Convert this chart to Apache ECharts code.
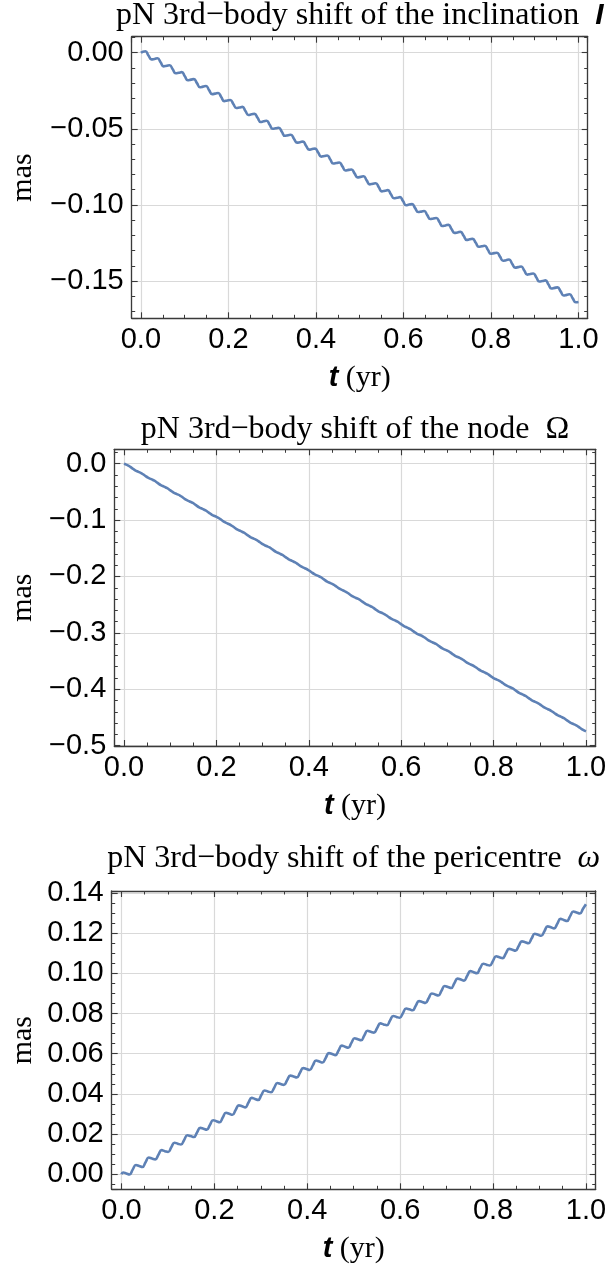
<!DOCTYPE html>
<html><head><meta charset="utf-8">
<script src="https://cdn.jsdelivr.net/npm/echarts@6/dist/echarts.min.js"></script>
<style>html,body{margin:0;padding:0;background:#fff}#c{width:610px;height:1272px}</style>
</head><body><div id="c"></div>
<script>
// ---- data (t in years, shifts in mas) ----
const timeYr = [0,
0.0035,0.0104,0.0173,0.0242, 0.0312,0.0381,0.0450,0.0519, 0.0589,0.0658,0.0727,0.0796, 0.0866,0.0935,0.1004,0.1073,
0.1143,0.1212,0.1281,0.1350, 0.1420,0.1489,0.1558,0.1627, 0.1697,0.1766,0.1835,0.1904, 0.1974,0.2043,0.2112,0.2181,
0.2251,0.2320,0.2389,0.2458, 0.2528,0.2597,0.2666,0.2735, 0.2805,0.2874,0.2943,0.3012, 0.3082,0.3151,0.3220,0.3289,
0.3359,0.3428,0.3497,0.3566, 0.3636,0.3705,0.3774,0.3843, 0.3913,0.3982,0.4051,0.4120, 0.4190,0.4259,0.4328,0.4397,
0.4467,0.4536,0.4605,0.4674, 0.4744,0.4813,0.4882,0.4951, 0.5021,0.5090,0.5159,0.5228, 0.5298,0.5367,0.5436,0.5505,
0.5575,0.5644,0.5713,0.5782, 0.5852,0.5921,0.5990,0.6059, 0.6129,0.6198,0.6267,0.6336, 0.6406,0.6475,0.6544,0.6613,
0.6683,0.6752,0.6821,0.6890, 0.6960,0.7029,0.7098,0.7167, 0.7237,0.7306,0.7375,0.7444, 0.7514,0.7583,0.7652,0.7721,
0.7791,0.7860,0.7929,0.7998, 0.8068,0.8137,0.8206,0.8275, 0.8345,0.8414,0.8483,0.8552, 0.8622,0.8691,0.8760,0.8829,
0.8899,0.8968,0.9037,0.9106, 0.9176,0.9245,0.9314,0.9383, 0.9453,0.9522,0.9591,0.9660, 0.9730,0.9799,0.9868,0.9937,
1];

const inclinationShift = [0,
0.0005,0.0009,-0.0018,-0.0044, -0.0041,-0.0037,-0.0063,-0.0090, -0.0086,-0.0083,-0.0109,-0.0135, -0.0132,-0.0128,-0.0155,-0.0181,
-0.0177,-0.0174,-0.0200,-0.0227, -0.0223,-0.0219,-0.0246,-0.0272, -0.0269,-0.0265,-0.0291,-0.0318, -0.0314,-0.0311,-0.0337,-0.0363,
-0.0360,-0.0356,-0.0383,-0.0409, -0.0405,-0.0402,-0.0428,-0.0455, -0.0451,-0.0447,-0.0474,-0.0500, -0.0497,-0.0493,-0.0519,-0.0546,
-0.0542,-0.0539,-0.0565,-0.0591, -0.0588,-0.0584,-0.0611,-0.0637, -0.0633,-0.0630,-0.0656,-0.0683, -0.0679,-0.0675,-0.0702,-0.0728,
-0.0725,-0.0721,-0.0747,-0.0774, -0.0770,-0.0767,-0.0793,-0.0819, -0.0816,-0.0812,-0.0839,-0.0865, -0.0861,-0.0858,-0.0884,-0.0911,
-0.0907,-0.0903,-0.0930,-0.0956, -0.0953,-0.0949,-0.0975,-0.1002, -0.0998,-0.0995,-0.1021,-0.1047, -0.1044,-0.1040,-0.1067,-0.1093,
-0.1089,-0.1086,-0.1112,-0.1139, -0.1135,-0.1131,-0.1158,-0.1184, -0.1181,-0.1177,-0.1203,-0.1230, -0.1226,-0.1223,-0.1249,-0.1275,
-0.1272,-0.1268,-0.1295,-0.1321, -0.1317,-0.1314,-0.1340,-0.1367, -0.1363,-0.1359,-0.1386,-0.1412, -0.1409,-0.1405,-0.1431,-0.1458,
-0.1454,-0.1451,-0.1477,-0.1503, -0.1500,-0.1496,-0.1523,-0.1549, -0.1545,-0.1542,-0.1568,-0.1595, -0.1591,-0.1587,-0.1614,-0.1640,
-0.1638];

const nodeShift = [0,
-0.0012,-0.0039,-0.0078,-0.0117, -0.0144,-0.0171,-0.0210,-0.0248, -0.0275,-0.0302,-0.0341,-0.0380, -0.0407,-0.0434,-0.0473,-0.0512,
-0.0539,-0.0565,-0.0604,-0.0643, -0.0670,-0.0697,-0.0736,-0.0775, -0.0802,-0.0829,-0.0867,-0.0906, -0.0933,-0.0960,-0.0999,-0.1038,
-0.1065,-0.1092,-0.1131,-0.1170, -0.1196,-0.1223,-0.1262,-0.1301, -0.1328,-0.1355,-0.1394,-0.1433, -0.1460,-0.1486,-0.1525,-0.1564,
-0.1591,-0.1618,-0.1657,-0.1696, -0.1723,-0.1750,-0.1788,-0.1827, -0.1854,-0.1881,-0.1920,-0.1959, -0.1986,-0.2013,-0.2052,-0.2091,
-0.2117,-0.2144,-0.2183,-0.2222, -0.2249,-0.2276,-0.2315,-0.2354, -0.2381,-0.2407,-0.2446,-0.2485, -0.2512,-0.2539,-0.2578,-0.2617,
-0.2644,-0.2671,-0.2710,-0.2748, -0.2775,-0.2802,-0.2841,-0.2880, -0.2907,-0.2934,-0.2973,-0.3012, -0.3038,-0.3065,-0.3104,-0.3143,
-0.3170,-0.3197,-0.3236,-0.3275, -0.3302,-0.3328,-0.3367,-0.3406, -0.3433,-0.3460,-0.3499,-0.3538, -0.3565,-0.3592,-0.3631,-0.3669,
-0.3696,-0.3723,-0.3762,-0.3801, -0.3828,-0.3855,-0.3894,-0.3933, -0.3959,-0.3986,-0.4025,-0.4064, -0.4091,-0.4118,-0.4157,-0.4196,
-0.4223,-0.4250,-0.4288,-0.4327, -0.4354,-0.4381,-0.4420,-0.4459, -0.4486,-0.4513,-0.4552,-0.4590, -0.4617,-0.4644,-0.4683,-0.4722,
-0.4747];

const pericentreShift = [0,
0.0009,0.0004,-0.0001,0.0023, 0.0046,0.0041,0.0036,0.0060, 0.0083,0.0078,0.0074,0.0097, 0.0120,0.0115,0.0111,0.0134,
0.0157,0.0152,0.0148,0.0171, 0.0194,0.0190,0.0185,0.0208, 0.0231,0.0227,0.0222,0.0245, 0.0269,0.0264,0.0259,0.0282,
0.0306,0.0301,0.0296,0.0320, 0.0343,0.0338,0.0333,0.0357, 0.0380,0.0375,0.0370,0.0394, 0.0417,0.0412,0.0408,0.0431,
0.0454,0.0449,0.0445,0.0468, 0.0491,0.0487,0.0482,0.0505, 0.0528,0.0524,0.0519,0.0542, 0.0566,0.0561,0.0556,0.0579,
0.0603,0.0598,0.0593,0.0616, 0.0640,0.0635,0.0630,0.0654, 0.0677,0.0672,0.0667,0.0691, 0.0714,0.0709,0.0705,0.0728,
0.0751,0.0746,0.0742,0.0765, 0.0788,0.0783,0.0779,0.0802, 0.0825,0.0821,0.0816,0.0839, 0.0862,0.0858,0.0853,0.0876,
0.0900,0.0895,0.0890,0.0913, 0.0937,0.0932,0.0927,0.0951, 0.0974,0.0969,0.0964,0.0988, 0.1011,0.1006,0.1001,0.1025,
0.1048,0.1043,0.1039,0.1062, 0.1085,0.1080,0.1076,0.1099, 0.1122,0.1118,0.1113,0.1136, 0.1159,0.1155,0.1150,0.1173,
0.1197,0.1192,0.1187,0.1210, 0.1234,0.1229,0.1224,0.1247, 0.1271,0.1266,0.1261,0.1285, 0.1308,0.1303,0.1298,0.1322,
0.1344];

const panelTitles = ['pN 3rd\u2212body shift of the inclination  {s|I}',
                     'pN 3rd\u2212body shift of the node  \u03A9',
                     'pN 3rd\u2212body shift of the pericentre  {w|\u03C9}'];
const yTickSteps = [0.05, 0.1, 0.02];
const yTickDecimals = [2, 1, 2];
const xTickStep = 0.2;
const yAxisName = 'mas';
const xAxisName = '{i|t} (yr)';

// ---- layout / styling ----
const panels = [
  {frame:{left:131.7, top:36.7, width:456, height:281.6}, y:[-0.1745, 0.0105], ySplit:4, yMinor:5, titleY:16},
  {frame:{left:114.3, top:449.3, width:481.4, height:296.7}, y:[-0.5006, 0.0255], ySplit:5, yMinor:5, titleY:430},
  {frame:{left:111.7, top:891, width:484, height:298.3}, y:[-0.0075, 0.141], ySplit:7, yMinor:4, titleY:859}
];
const seriesData = [inclinationShift, nodeShift, pericentreShift];
const X_RANGE = [-0.021, 1.021];
const FRAME = '#3a3a3a';
const GRIDC = '#d9d9d9';
const LABEL_FONT = 'Liberation Sans';
const SERIF = 'Liberation Serif';
const TICK_SIZE = 29;

function fmt(step, dec) {
  return function (v) {
    const r = Math.round(v / step);
    if (Math.abs(v - r * step) > step * 1e-3) return '';
    const s = Math.abs(r * step).toFixed(dec);
    return (r < 0 ? '\u2212' : '') + s;
  };
}

const grid = [], xAxis = [], yAxis = [], series = [], graphic = [];
panels.forEach((p, i) => {
  grid.push(Object.assign({containLabel:false}, p.frame));
  const common = {
    axisLine:{show:true, onZero:false, lineStyle:{color:FRAME, width:1.3}},
    axisTick:{show:true, inside:true, length:6, lineStyle:{color:FRAME, width:1.1}},
    minorTick:{show:true, length:3.5, lineStyle:{color:FRAME, width:1}},
  };
  xAxis.push(Object.assign({}, common, {
    type:'value', gridIndex:i, position:'bottom', min:X_RANGE[0], max:X_RANGE[1], splitNumber:5,
    minorTick:Object.assign({}, common.minorTick, {splitNumber:4}),
    axisLabel:{show:true, margin:7, color:'#000', fontFamily:LABEL_FONT, fontSize:TICK_SIZE, formatter:fmt(xTickStep,1), showMinLabel:false, showMaxLabel:false},
    splitLine:{show:true, lineStyle:{color:GRIDC, width:1.2}}
  }));
  xAxis.push(Object.assign({}, common, {
    type:'value', gridIndex:i, position:'top', min:X_RANGE[0], max:X_RANGE[1], splitNumber:5,
    minorTick:Object.assign({}, common.minorTick, {splitNumber:4}),
    axisLabel:{show:false}, splitLine:{show:false}
  }));
  yAxis.push(Object.assign({}, common, {
    type:'value', gridIndex:i, position:'left', min:p.y[0], max:p.y[1], splitNumber:p.ySplit,
    minorTick:Object.assign({}, common.minorTick, {splitNumber:p.yMinor}),
    axisLabel:{show:true, margin:8, color:'#000', fontFamily:LABEL_FONT, fontSize:TICK_SIZE, formatter:fmt(yTickSteps[i], yTickDecimals[i]), showMinLabel:false, showMaxLabel:false},
    splitLine:{show:true, lineStyle:{color:GRIDC, width:1.2}}
  }));
  yAxis.push(Object.assign({}, common, {
    type:'value', gridIndex:i, position:'right', min:p.y[0], max:p.y[1], splitNumber:p.ySplit,
    minorTick:Object.assign({}, common.minorTick, {splitNumber:p.yMinor}),
    axisLabel:{show:false}, splitLine:{show:false}
  }));
  series.push({
    type:'line', xAxisIndex:2*i, yAxisIndex:2*i, showSymbol:false, smooth:0.5,
    lineStyle:{color:'#5e81b5', width:2.6}, data:timeYr.map((t, k) => [t, seriesData[i][k]]),
    silent:true
  });
  const cx = p.frame.left + p.frame.width / 2;
  const cy = p.frame.top + p.frame.height / 2;
  graphic.push({type:'text', x:cx, y:p.titleY, style:{
    text:panelTitles[i], fill:'#000', font:'32px "' + SERIF + '"',
    align:'center', verticalAlign:'middle', textAlign:'center', textVerticalAlign:'middle',
    rich:{s:{fontFamily:LABEL_FONT, fontStyle:'italic', fontWeight:'bold', fontSize:30, fill:'#000'},
          w:{fontFamily:SERIF, fontStyle:'italic', fontSize:32, fill:'#000'}}
  }});
  graphic.push({type:'text', x:23.5, y:cy, rotation:Math.PI/2, style:{
    text:yAxisName, fill:'#000', font:'30px "' + SERIF + '"',
    align:'center', verticalAlign:'middle', textAlign:'center', textVerticalAlign:'middle'
  }});
  graphic.push({type:'text', x:cx, y:p.frame.top + p.frame.height + 60, style:{
    text:xAxisName, fill:'#000', font:'30px "' + SERIF + '"',
    align:'center', verticalAlign:'middle', textAlign:'center', textVerticalAlign:'middle',
    rich:{i:{fontFamily:LABEL_FONT, fontStyle:'italic', fontWeight:'bold', fontSize:29, fill:'#000'}}
  }});
});

const chart = echarts.init(document.getElementById('c'), null, {renderer:'canvas'});
chart.setOption({animation:false, backgroundColor:'#fff', grid, xAxis, yAxis, series, graphic});
</script>
</body></html>
